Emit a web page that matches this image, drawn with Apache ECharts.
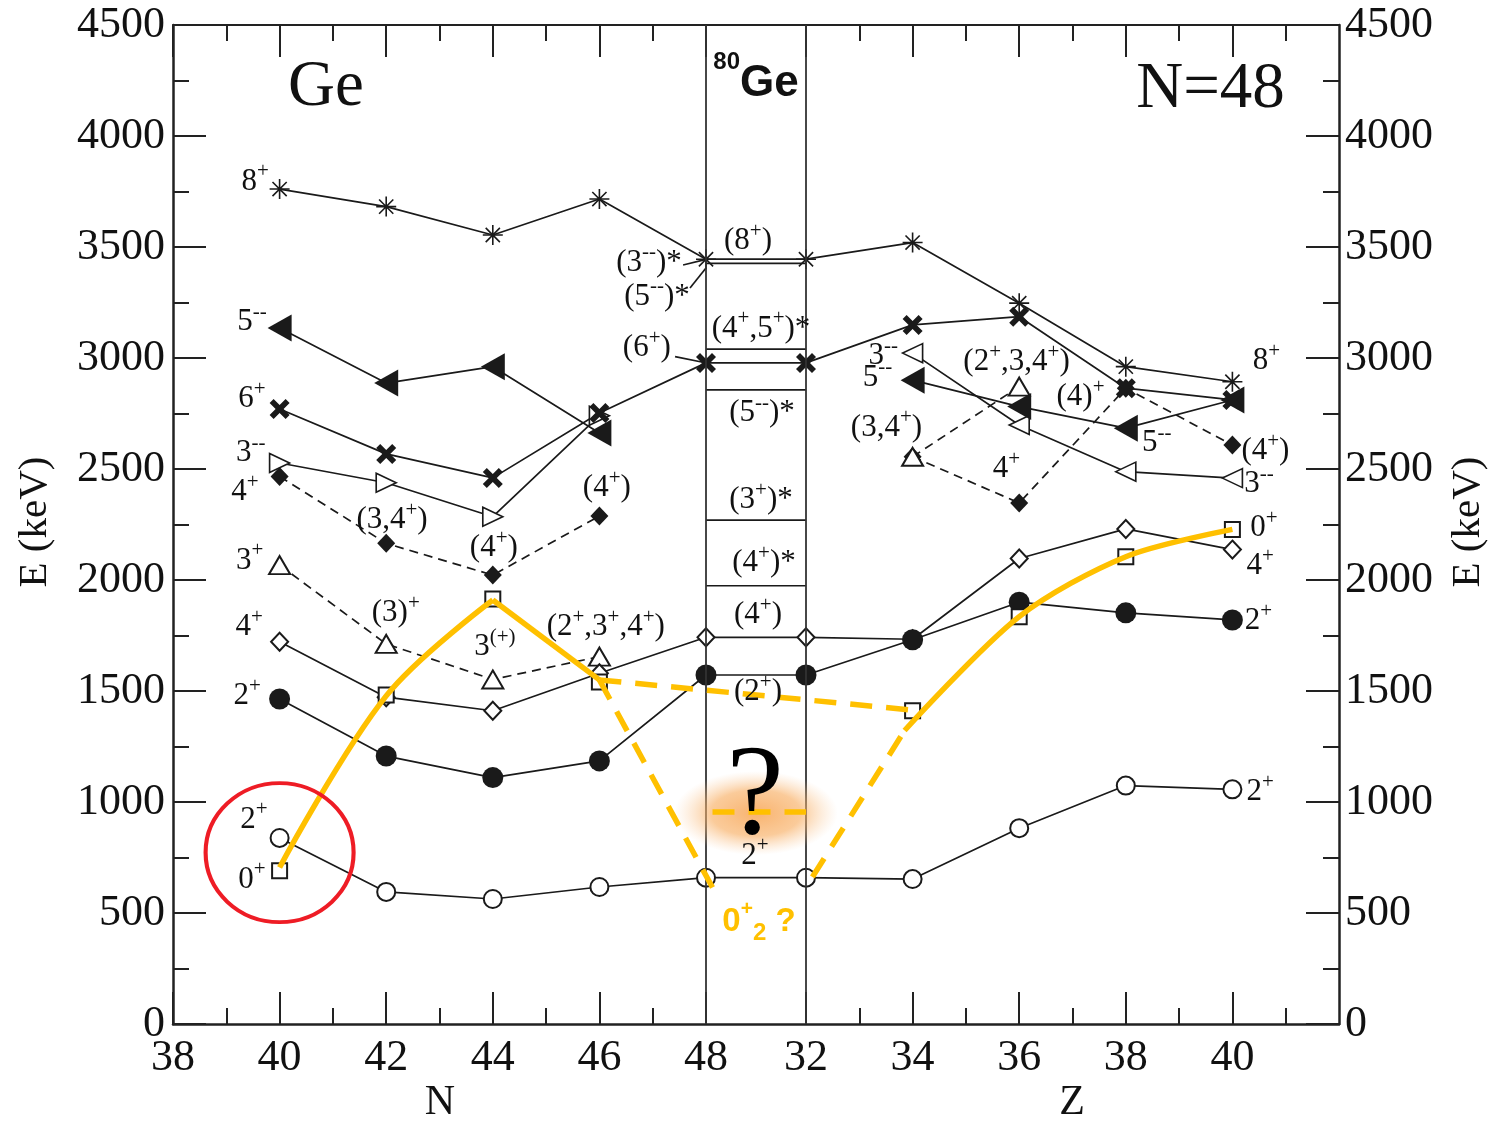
<!DOCTYPE html>
<html><head><meta charset="utf-8">
<script src="https://cdn.jsdelivr.net/npm/echarts@6/dist/echarts.min.js"></script>
<style>html,body{margin:0;padding:0;background:#fff}#c{width:1501px;height:1124px}</style>
</head><body><div id="c"></div>
<script>
// ---------------- data ----------------
const N_TICKS = [38, 40, 42, 44, 46, 48];          // neutron number tick labels (Ge chain)
const Z_TICKS = [32, 34, 36, 38, 40];              // proton number tick labels (N=48 chain)
const N_MINOR = [39, 41, 43, 45, 47];
const Z_MINOR = [33, 35, 37, 39, 41];
const N_ISOTOPES = [40, 42, 44, 46, 48];           // Ge isotopes
const Z_ISOTONES = [32, 34, 36, 38, 40];           // N=48 isotones

// level energies (keV); *_N for N=40..48, *_Z for Z=32..40; null = not shown
const E21_N = [838, 595, 563, 617, 659];
const E21_Z = [659, 653, 882, 1074, 1057];
const E22_N = [1464, 1207, 1110, 1185, 1572];
const E22_Z = [1572, 1731, 1900, 1852, 1820];
const E41_N = [1722, 1472, 1411, 1580, 1742];
const E41_Z = [1742, 1733, 2097, 2230, 2137];
const E02_N = [690, 1482, 1914, 1540, null];
const E02_Z = [null, 1411, 1835, 2105, 2228];
const E3P_N = [2067, 1712, 1552, 1655, null];
const E3P_Z = [null, 2555, 2871, null, null];
const E42_N = [2466, 2165, 2022, 2288, null];
const E42_Z = [null, 2555, 2347, 2864, 2608];
const E3M_N = [2527, 2438, 2285, 2740, null];
const E3M_Z = [null, 3022, 2698, 2488, 2459];
const E5M_N = [3135, 2887, 2961, 2662, null];
const E5M_Z = [null, 2900, 2781, 2684, 2811];
const E6P_N = [2770, 2568, 2460, 2752, 2978];
const E6P_Z = [2978, 3149, 3186, 2864, 2811];
const E8P_N = [3761, 3682, 3554, 3716, 3445];
const E8P_Z = [3445, 3520, 3247, 2961, 2893];
const GE80_ONLY = [3426, 3040, 2856, 2270, 1974];   // other 80Ge levels (band only)

// yellow overlay (side, coordinate, keV); side 'B' = fraction across the 80Ge band
const YEL_A = [['N', 40, 705], ['N', 42, 1478], ['N', 44, 1910]];
const YEL_B = [['N', 44, 1910], ['N', 46, 1550]];
const YEL_C = [['N', 46, 1550], ['Z', 34, 1414]];
const YEL_D = [['N', 46, 1550], ['B', 0.065, 615]];
const YEL_E = [['Z', 32.12, 662], ['Z', 33.85, 1322]];
const YEL_F = [['Z', 33.85, 1322], ['Z', 36, 1835], ['Z', 38, 2105], ['Z', 40, 2228]];
const YEL_G = [['B', 0.065, 955], ['B', 1, 955]];
const GLOW_AT = ['B', 0.5, 950];
const RED_CIRCLE_AT = ['N', 40, 772];

// leader lines from labels
const LEADERS = [
  [['N', 47.57, 3419], ['N', 48, 3444]],
  [['N', 47.70, 3315], ['N', 48, 3405]],
  [['N', 47.42, 3006], ['N', 47.94, 2981]]
];

// level labels: side, coordinate, keV, text
const LABELS = [
  ['N', 39.54, 3793, '8{s|+}'], ['N', 39.48, 3162, '5{s|--}'], ['N', 39.48, 2815, '6{s|+}'],
  ['N', 39.46, 2572, '3{s|--}'], ['N', 39.35, 2396, '4{s|+}'], ['N', 42.11, 2270, '(3,4{s|+})'],
  ['N', 44.02, 2144, '(4{s|+})'], ['N', 46.14, 2414, '(4{s|+})'], ['N', 39.44, 2086, '3{s|+}'],
  ['N', 42.18, 1851, '(3){s|+}'], ['N', 44.04, 1698, '3{s|(+)}'], ['N', 46.12, 1788, '(2{s|+},3{s|+},4{s|+})'],
  ['N', 39.43, 1788, '4{s|+}'], ['N', 39.39, 1477, '2{s|+}'], ['N', 39.52, 919, '2{s|+}'],
  ['N', 39.48, 649, '0{s|+}'], ['N', 46.93, 3428, '(3{s|--})*'], ['N', 47.08, 3275, '(5{s|--})*'],
  ['N', 46.89, 3045, '(6{s|+})'],
  ['B', 0.42, 3527, '(8{s|+})'], ['B', 0.55, 3131, '(4{s|+},5{s|+})*'], ['B', 0.56, 2752, '(5{s|--})*'],
  ['B', 0.55, 2360, '(3{s|+})*'], ['B', 0.58, 2076, '(4{s|+})*'], ['B', 0.52, 1842, '(4{s|+})'],
  ['B', 0.52, 1495, '(2{s|+})'], ['B', 0.49, 757, '2{s|+}'],
  ['Z', 33.45, 3009, '3{s|--}'], ['Z', 33.34, 2910, '5{s|--}'], ['Z', 33.51, 2685, '(3,4{s|+})'],
  ['Z', 35.95, 2982, '(2{s|+},3,4{s|+})'], ['Z', 37.15, 2824, '(4){s|+}'], ['Z', 35.76, 2500, '4{s|+}'],
  ['Z', 38.58, 2617, '5{s|--}'], ['Z', 40.64, 2986, '8{s|+}'], ['Z', 40.62, 2581, '(4{s|+})'],
  ['Z', 40.50, 2432, '3{s|--}'], ['Z', 40.59, 2234, '0{s|+}'], ['Z', 40.52, 2063, '4{s|+}'],
  ['Z', 40.49, 1815, '2{s|+}'], ['Z', 40.52, 1045, '2{s|+}']
];
const TITLES = [['N', 40.87, 4216, 'Ge'], ['Z', 39.59, 4207, 'N=48']];
const GE80_TITLE = ['B', 0.5, 4261, '{a|80}{b|Ge}'];
const QUESTION = ['B', 0.49, 1015, '?'];
const ZERO2 = ['B', 0.53, 459, '{y|0}{ys|+}{yb|2}{y| ?}'];

// ---------------- layout helpers ----------------
const BAND = 100 / 53.3;             // width of 80Ge column in axis units
const U_MAX = 20 + BAND;
function toU(side, v) {
  if (side === 'N') return v - 38;
  if (side === 'B') return 10 + v * BAND;
  return v - 32 + 10 + BAND;
}
const P = p => [toU(p[0], p[1]), p[2]];
function sideData(side, xs, es) {
  return xs.map((x, i) => es[i] == null ? null : [toU(side, x), es[i]]).filter(Boolean);
}

const BLACK = '#1a1a1a';
const LW = 1.7;
const DASH = [9, 6];
const STAR = 'path://M0,-10L0,10M-10,0L10,0M-7.1,-7.1L7.1,7.1M-7.1,7.1L7.1,-7.1';
const XMARK = 'path://M-10,-6L-6,-10L0,-4L6,-10L10,-6L4,0L10,6L6,10L0,4L-6,10L-10,6L-4,0Z';
const TRI_R = 'path://M-9,-10L10,0L-9,10Z';
const TRI_L = 'path://M9,-10L-10,0L9,10Z';
const MARK = {
  oc: { symbol: 'emptyCircle', symbolSize: 18, itemStyle: { color: BLACK, borderWidth: 1.6 } },
  fc: { symbol: 'circle', symbolSize: 21, itemStyle: { color: BLACK } },
  od: { symbol: 'emptyDiamond', symbolSize: [17, 18], itemStyle: { color: BLACK, borderWidth: 1.6 } },
  fd: { symbol: 'diamond', symbolSize: [18, 19], itemStyle: { color: BLACK } },
  os: { symbol: 'emptyRect', symbolSize: 15, itemStyle: { color: BLACK, borderWidth: 1.6 } },
  ot: { symbol: 'emptyTriangle', symbolSize: [21, 18], itemStyle: { color: BLACK, borderWidth: 1.6 } },
  otr: { symbol: TRI_R, symbolSize: [20, 19], itemStyle: { color: '#fff', borderColor: BLACK, borderWidth: 1.6 } },
  otl: { symbol: TRI_L, symbolSize: [20, 19], itemStyle: { color: '#fff', borderColor: BLACK, borderWidth: 1.6 } },
  ftl: { symbol: TRI_L, symbolSize: [24, 27], itemStyle: { color: BLACK } },
  x: { symbol: XMARK, symbolSize: 20, itemStyle: { color: BLACK } },
  st: { symbol: STAR, symbolSize: 20, itemStyle: { color: 'rgba(0,0,0,0)', borderColor: BLACK, borderWidth: 1.6 } }
};
function lineSeries(data, m, dashed, noLine) {
  return {
    type: 'line', data: data, symbol: m ? m.symbol : 'none', symbolSize: m ? m.symbolSize : 0,
    itemStyle: m ? m.itemStyle : undefined, showSymbol: !!m, silent: true, z: 3,
    lineStyle: { color: BLACK, width: noLine ? 0 : LW, type: dashed ? DASH : 'solid', opacity: noLine ? 0 : 1 },
    emphasis: { disabled: true }
  };
}
function yellow(list, dashed, smooth) {
  return {
    type: 'line', data: list.map(P), symbol: 'none', smooth: smooth || false, silent: true, z: 10,
    lineStyle: { color: '#FFC000', width: 5.5, type: dashed ? [22, 14] : 'solid', cap: 'butt' },
    emphasis: { disabled: true }
  };
}

const series = [];
// 80Ge band-only levels
GE80_ONLY.forEach(e => series.push(lineSeries([[toU('B', 0), e], [toU('B', 1), e]], null, false)));
// leaders
LEADERS.forEach(l => series.push(lineSeries(l.map(P), null, false)));
// level systematics
series.push(lineSeries(sideData('N', N_ISOTOPES, E3M_N), MARK.otr, false));
series.push(lineSeries(sideData('Z', Z_ISOTONES, E3M_Z), MARK.otl, false));
series.push(lineSeries(sideData('N', N_ISOTOPES, E5M_N), MARK.ftl, false));
series.push(lineSeries(sideData('Z', Z_ISOTONES, E5M_Z), MARK.ftl, false));
series.push(lineSeries(sideData('N', N_ISOTOPES, E42_N), MARK.fd, true));
series.push(lineSeries(sideData('Z', Z_ISOTONES, E42_Z), MARK.fd, true));
series.push(lineSeries(sideData('N', N_ISOTOPES, E3P_N), MARK.ot, true));
series.push(lineSeries(sideData('Z', Z_ISOTONES, E3P_Z), MARK.ot, true));
series.push(lineSeries(sideData('N', N_ISOTOPES, E6P_N).concat(sideData('Z', Z_ISOTONES, E6P_Z)), MARK.x, false));
series.push(lineSeries(sideData('N', N_ISOTOPES, E8P_N).concat(sideData('Z', Z_ISOTONES, E8P_Z)), MARK.st, false));
series.push(lineSeries(sideData('N', N_ISOTOPES, E41_N).concat(sideData('Z', Z_ISOTONES, E41_Z)), MARK.od, false));
series.push(lineSeries(sideData('N', N_ISOTOPES, E22_N).concat(sideData('Z', Z_ISOTONES, E22_Z)), MARK.fc, false));
series.push(lineSeries(sideData('N', N_ISOTOPES, E21_N).concat(sideData('Z', Z_ISOTONES, E21_Z)), MARK.oc, false));
series.push(lineSeries(sideData('N', N_ISOTOPES, E02_N).concat(sideData('Z', Z_ISOTONES, E02_Z)), MARK.os, false, true));
// band vertical lines
series[0].markLine = {
  silent: true, symbol: 'none', label: { show: false }, animation: false,
  lineStyle: { color: '#333', width: 1.8, type: 'solid' },
  data: [{ xAxis: toU('B', 0) }, { xAxis: toU('B', 1) }]
};
// glow
series.push({
  type: 'custom', z: 9, silent: true, data: [P(GLOW_AT)],
  renderItem: function (params, api) {
    const p = api.coord([api.value(0), api.value(1)]);
    return {
      type: 'circle', x: p[0], y: p[1], scaleX: 1.95, shape: { cx: 0, cy: 0, r: 42 },
      style: {
        fill: new echarts.graphic.RadialGradient(0.5, 0.5, 0.5, [
          { offset: 0, color: 'rgba(247,165,85,0.85)' },
          { offset: 0.55, color: 'rgba(248,175,100,0.65)' },
          { offset: 1, color: 'rgba(250,205,160,0)' }
        ])
      }
    };
  }
});
// yellow overlay
series.push(yellow(YEL_A, false, 0.35));
series.push(yellow(YEL_B, false));
series.push(yellow(YEL_C, true));
series.push(yellow(YEL_D, true));
series.push(yellow(YEL_E, true));
series.push(yellow(YEL_F, false, 0.3));
series.push(yellow(YEL_G, true));
// red circle
series.push({
  type: 'scatter', z: 11, silent: true, data: [P(RED_CIRCLE_AT)], symbol: 'circle', symbolSize: [148, 139],
  itemStyle: { color: 'rgba(0,0,0,0)', borderColor: '#ee1c25', borderWidth: 4, opacity: 1 }
});
// text annotations
const SERIF = 'Liberation Serif';
const TXT = '#111';
const richBase = {
  s: { fontSize: 21, lineHeight: 21, verticalAlign: 'top', fontFamily: SERIF, color: TXT },
  a: { fontSize: 24, lineHeight: 24, verticalAlign: 'top', fontFamily: 'Liberation Sans', fontWeight: 'bold', color: TXT },
  b: { fontSize: 44, lineHeight: 56, verticalAlign: 'bottom', fontFamily: 'Liberation Sans', fontWeight: 'bold', color: TXT },
  y: { fontSize: 33, lineHeight: 46, verticalAlign: 'middle', fontFamily: 'Liberation Sans', fontWeight: 'bold', color: '#FFC000' },
  ys: { fontSize: 21, lineHeight: 21, verticalAlign: 'top', fontFamily: 'Liberation Sans', fontWeight: 'bold', color: '#FFC000' },
  yb: { fontSize: 24, lineHeight: 24, verticalAlign: 'bottom', fontFamily: 'Liberation Sans', fontWeight: 'bold', color: '#FFC000' }
};
function textItem(l, extra) {
  return { value: P(l), label: Object.assign({ formatter: l[3] }, extra || {}) };
}
const textData = LABELS.map(l => textItem(l))
  .concat(TITLES.map(l => textItem(l, { fontSize: 65, lineHeight: 70 })))
  .concat([textItem(GE80_TITLE), textItem(QUESTION, { fontSize: 130, lineHeight: 135, color: '#000' }), textItem(ZERO2)]);
series.push({
  type: 'scatter', z: 12, silent: true, symbolSize: 1, itemStyle: { color: 'rgba(0,0,0,0)', opacity: 1 },
  data: textData,
  label: {
    show: true, position: 'inside', fontFamily: SERIF, fontSize: 31, lineHeight: 41, opacity: 1,
    color: TXT, textBorderWidth: 0, align: 'center', verticalAlign: 'middle', rich: richBase
  }
});

// axes
const X_LABELS = N_TICKS.map(n => ({ u: toU('N', n), t: String(n) }))
  .concat(Z_TICKS.map(z => ({ u: toU('Z', z), t: String(z) })));
const MAJOR_U = X_LABELS.map(d => d.u);
const MINOR_U = N_MINOR.map(n => toU('N', n)).concat(Z_MINOR.map(z => toU('Z', z)));
const tickLine = { color: '#222', width: 2 };
const xBase = {
  type: 'value', min: 0, max: U_MAX, splitLine: { show: false },
  axisLabel: { show: false }, axisLine: { show: false, onZero: false }, axisTick: { show: false }
};
const tickFont = { fontFamily: SERIF, fontSize: 44, color: TXT };
const yBase = {
  type: 'value', min: 0, max: 4500, interval: 500, splitLine: { show: false },
  axisLine: { show: true, onZero: false, lineStyle: { color: '#222', width: 2.5 } },
  axisTick: { show: true, inside: true, length: 33, lineStyle: tickLine },
  minorTick: { show: true, splitNumber: 2, length: 16, lineStyle: tickLine },
  axisLabel: Object.assign({ show: true, margin: 8, formatter: v => String(v) }, tickFont)
};

const option = {
  animation: false,
  backgroundColor: '#fff',
  grid: { left: 173, right: 162, top: 25, bottom: 100, containLabel: false },
  xAxis: [
    Object.assign({}, xBase, {
      position: 'bottom',
      axisLine: { show: true, onZero: false, lineStyle: { color: '#222', width: 2.5 } },
      axisTick: { show: true, inside: true, length: 32, customValues: MAJOR_U, lineStyle: tickLine },
      axisLabel: Object.assign({
        show: true, margin: 12, customValues: MAJOR_U,
        formatter: v => { const d = X_LABELS.find(d => Math.abs(d.u - v) < 1e-6); return d ? d.t : ''; }
      }, tickFont)
    }),
    Object.assign({}, xBase, {
      position: 'bottom',
      axisTick: { show: true, inside: true, length: 16, customValues: MINOR_U, lineStyle: tickLine }
    }),
    Object.assign({}, xBase, {
      position: 'top',
      axisLine: { show: true, onZero: false, lineStyle: { color: '#222', width: 2 } },
      axisTick: { show: true, inside: true, length: 32, customValues: MAJOR_U, lineStyle: tickLine }
    }),
    Object.assign({}, xBase, {
      position: 'top',
      axisTick: { show: true, inside: true, length: 16, customValues: MINOR_U, lineStyle: tickLine }
    })
  ],
  yAxis: [
    Object.assign({}, yBase, { position: 'left' }),
    Object.assign({}, yBase, { position: 'right', axisLabel: Object.assign({ show: true, margin: 6, formatter: v => String(v) }, tickFont) })
  ],
  graphic: [
    { type: 'text', x: 35, y: 522, rotation: Math.PI / 2, style: { text: 'E (keV)', fontFamily: SERIF, fontSize: 41, fill: TXT, align: 'center', verticalAlign: 'middle' } },
    { type: 'text', x: 1468, y: 522, rotation: Math.PI / 2, style: { text: 'E (keV)', fontFamily: SERIF, fontSize: 41, fill: TXT, align: 'center', verticalAlign: 'middle' } },
    { type: 'text', x: 440, y: 1103, style: { text: 'N', fontFamily: SERIF, fontSize: 42, fill: TXT, align: 'center', verticalAlign: 'middle' } },
    { type: 'text', x: 1072, y: 1103, style: { text: 'Z', fontFamily: SERIF, fontSize: 42, fill: TXT, align: 'center', verticalAlign: 'middle' } }
  ],
  series: series
};
const chart = echarts.init(document.getElementById('c'), null, { renderer: 'canvas' });
chart.setOption(option);
</script>
</body></html>
